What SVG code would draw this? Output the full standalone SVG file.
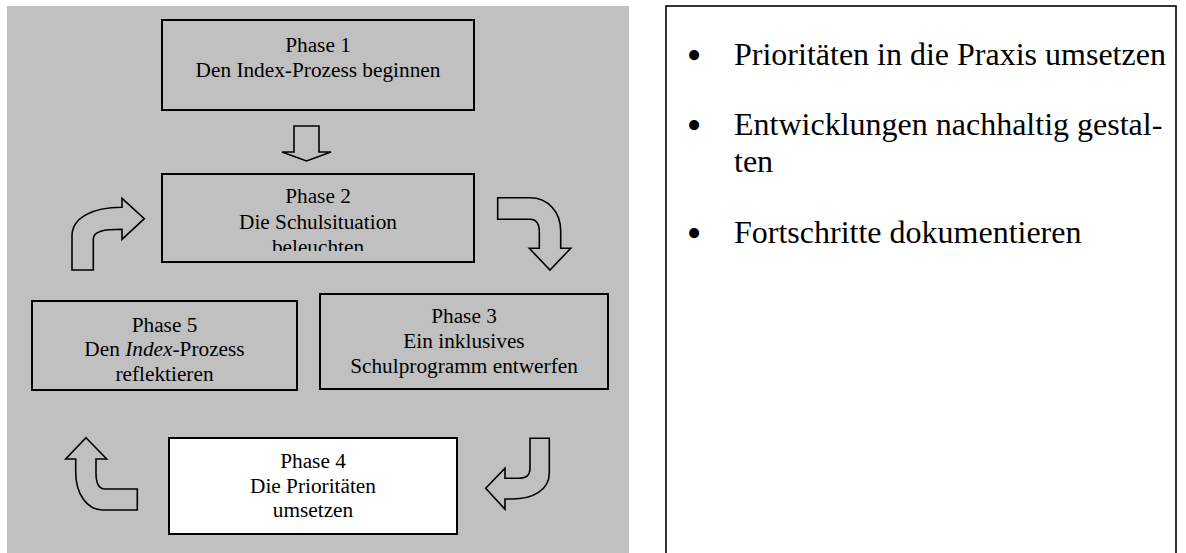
<svg xmlns="http://www.w3.org/2000/svg" width="1186" height="553" viewBox="0 0 1186 553">
<style>
.box{fill:none;stroke:#000;stroke-width:2}
.arr{fill:#c0c0c0;stroke:#000;stroke-width:1.6;stroke-linejoin:miter}
.t{font-family:"Liberation Serif","Times New Roman",serif;font-size:21.3px;fill:#000;text-anchor:middle}
.b{font-family:"Liberation Serif","Times New Roman",serif;font-size:32px;fill:#000}
.dot{font-family:"Liberation Serif","Times New Roman",serif;font-size:42px;fill:#000;text-anchor:middle}
</style>
<defs>
<clipPath id="clip2"><rect x="163" y="175" width="310" height="76"/></clipPath>
</defs>
<rect x="0" y="0" width="1186" height="553" fill="#fff"/>
<rect x="7" y="6" width="622" height="547" fill="#c0c0c0"/>

<g id="phase1">
<rect class="box" x="162" y="20" width="312" height="90"/>
<text class="t" x="318" y="52">Phase 1</text>
<text class="t" x="318" y="77">Den Index-Prozess beginnen</text>
</g>

<g id="phase2">
<rect class="box" x="162" y="174" width="312" height="88"/>
<text class="t" x="318" y="203">Phase 2</text>
<text class="t" x="318" y="228.5">Die Schulsituation</text>
<text class="t" x="318" y="253.5" clip-path="url(#clip2)">beleuchten</text>
</g>

<g id="phase5">
<rect class="box" x="32" y="301" width="265" height="89"/>
<text class="t" x="164.5" y="331.5">Phase 5</text>
<text class="t" x="164.5" y="356">Den <tspan font-style="italic">Index</tspan>-Prozess</text>
<text class="t" x="164.5" y="380.5">reflektieren</text>
</g>

<g id="phase3">
<rect class="box" x="320" y="294" width="288" height="95"/>
<text class="t" x="464" y="323">Phase 3</text>
<text class="t" x="464" y="348">Ein inklusives</text>
<text class="t" x="464" y="372.5">Schulprogramm entwerfen</text>
</g>

<g id="phase4">
<rect x="169" y="438" width="288" height="96" fill="#fff" stroke="#000" stroke-width="2"/>
<text class="t" x="313" y="468">Phase 4</text>
<text class="t" x="313" y="492.5">Die Prioritäten</text>
<text class="t" x="313" y="517">umsetzen</text>
</g>

<g id="connectors">
<path class="arr" d="M294,126 H319 V152 H331 L306.5,161 L282,152 H294 Z"/>
<path class="arr" d="M72,270 V236 C72,218 92,207.3 122,207.3 V198.3 L144.3,218.7 L122,239.3 V229.3 C104,229.3 93.3,231 93.3,239 V270 Z"/>
<path class="arr" d="M497.7,197.7 H530 C548,197.7 560.7,212 560.7,231 V248.3 H570.7 L550,270 L529.3,248.3 H539.3 V232 C539.3,224 536,219.3 530,219.3 H497.7 Z"/>
<path class="arr" d="M86,437.7 L106.7,459 H96 V473 C96,484 99,489 105,489 H137.3 V510 H103 C87,510 75.7,494 75.7,472 V459 H65.7 Z"/>
<path class="arr" d="M530,438.3 H549.3 V473 C549.3,490 533,499 512,499 H505 V509.3 L485.7,488.3 L505,468.3 V478.3 H518 C526,478.3 530,476 530,468 Z"/>
</g>

<g id="notes">
<rect x="666" y="6" width="510" height="560" fill="#fff" stroke="#000" stroke-width="1.6"/>
<text class="dot" x="694" y="69">•</text>
<text class="b" x="734" y="65">Prioritäten in die Praxis umsetzen</text>
<text class="dot" x="694" y="139">•</text>
<text class="b" x="734" y="135">Entwicklungen nachhaltig gestal-</text>
<text class="b" x="734" y="172">ten</text>
<text class="dot" x="694" y="247">•</text>
<text class="b" x="734" y="243">Fortschritte dokumentieren</text>
</g>
</svg>
